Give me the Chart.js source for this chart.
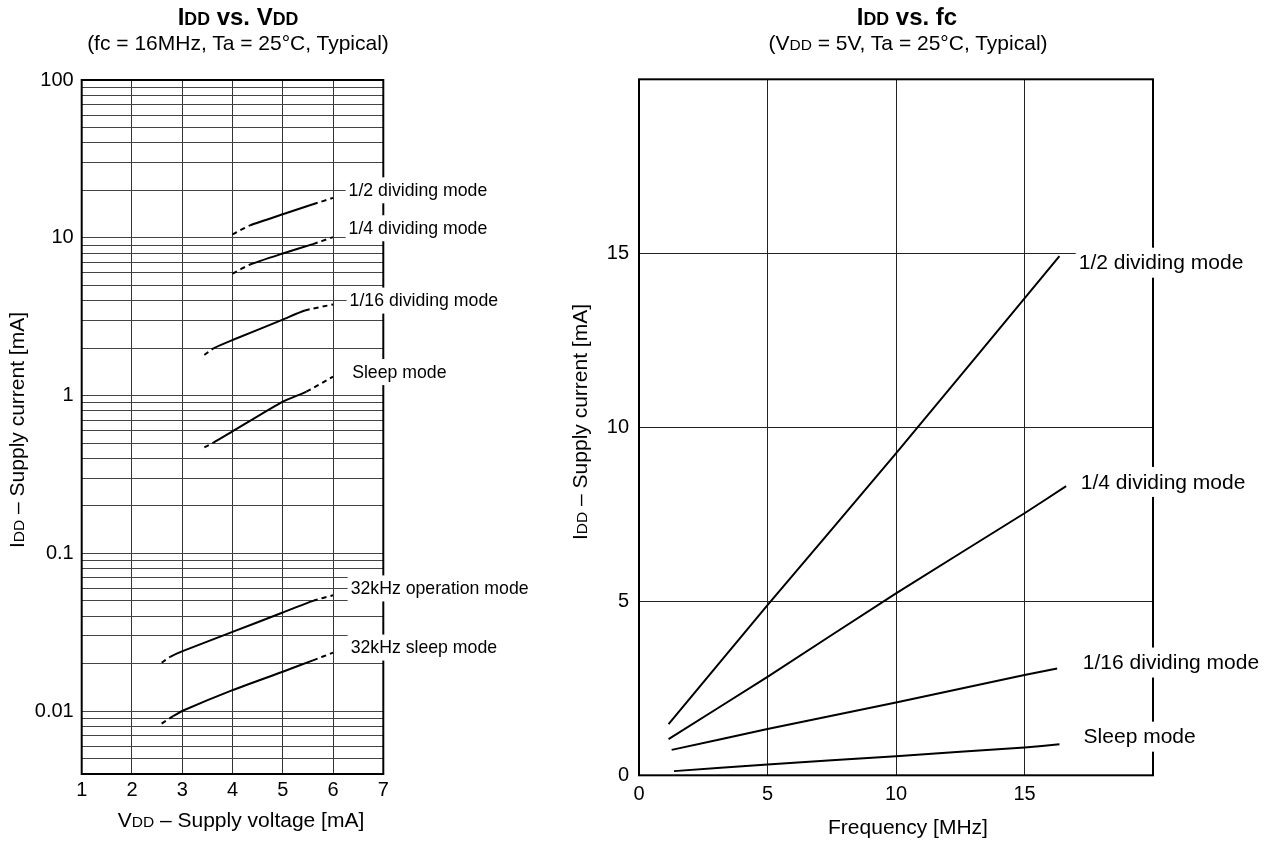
<!DOCTYPE html>
<html>
<head>
<meta charset="utf-8">
<script src="https://cdn.jsdelivr.net/npm/chart.js@4.4.0/dist/chart.umd.min.js"></script>
<style>
  body { margin: 0; background: #fff; color: #000; font-family: "Liberation Sans", Arial, sans-serif; }
  #wrap { position: relative; width: 1273px; height: 842px; overflow: hidden; }
  canvas { position: absolute; top: 0; }
  .t { position: absolute; text-align: center; white-space: nowrap; line-height: 24px; height: 24px; font-size: 21px; }
  .b { font-weight: bold; font-size: 24px; }
  .s { font-size: 0.74em; }
  .rot { transform: rotate(-90deg); }
</style>
</head>
<body>
<div id="wrap">
  <canvas id="leftChart" width="560" height="842" style="left:0"></canvas>
  <canvas id="rightChart" width="713" height="842" style="left:560px"></canvas>

  <div class="t b" style="left:38px;width:400px;top:5px;">I<span class="s">DD</span> vs. V<span class="s">DD</span></div>
  <div class="t" style="left:38px;width:400px;top:31px;">(fc = 16MHz, Ta = 25°C, Typical)</div>
  <div class="t" style="left:41px;width:400px;top:808px;">V<span class="s">DD</span> – Supply voltage [mA]</div>
  <div class="t rot" style="left:-183px;width:400px;top:418px;">I<span class="s">DD</span> – Supply current [mA]</div>

  <div class="t b" style="left:707px;width:400px;top:5px;">I<span class="s">DD</span> vs. fc</div>
  <div class="t" style="left:708px;width:400px;top:31px;">(V<span class="s">DD</span> = 5V, Ta = 25°C, Typical)</div>
  <div class="t" style="left:708px;width:400px;top:815px;">Frequency [MHz]</div>
  <div class="t rot" style="left:380px;width:400px;top:410px;">I<span class="s">DD</span> – Supply current [mA]</div>
</div>

<script>
// --- IDD vs. VDD (fc = 16MHz), log scale, first/last segment dashed ---
const halfVdd = [4.0, 4.35, 5.0, 5.6, 6.0];
const halfIdd = [10.5, 12.0, 14.1, 16.3, 17.9];
const quarterVdd = [4.0, 4.35, 5.0, 5.6, 6.0];
const quarterIdd = [5.93, 6.77, 7.95, 9.12, 10.1];
const sixteenthVdd = [3.44, 3.63, 4.0, 5.0, 5.44, 6.0];
const sixteenthIdd = [1.81, 2.0, 2.25, 3.03, 3.46, 3.78];
const sleepVdd = [3.44, 3.63, 4.0, 5.0, 5.47, 6.0];
const sleepIdd = [0.47, 0.505, 0.593, 0.916, 1.06, 1.32];
const k32OpVdd = [2.59, 2.76, 3.02, 4.0, 5.0, 5.6, 6.0];
const k32OpIdd = [0.0203, 0.0221, 0.0241, 0.0318, 0.0422, 0.05, 0.0543];
const k32SleepVdd = [2.59, 2.82, 3.02, 4.0, 5.0, 5.6, 6.0];
const k32SleepIdd = [0.00835, 0.0093, 0.0101, 0.0136, 0.0178, 0.021, 0.0235];
const vddTickLabels = ["100", "10", "1", "0.1", "0.01"];

// --- IDD vs. fc (VDD = 5V) ---
const halfFc = [1.15, 5, 10, 16.36];
const halfFcIdd = [1.47, 4.89, 9.25, 14.92];
const quarterFc = [1.15, 5, 10, 15, 16.62];
const quarterFcIdd = [1.04, 2.83, 5.23, 7.53, 8.31];
const sixteenthFc = [1.27, 5, 10, 15, 16.27];
const sixteenthFcIdd = [0.73, 1.33, 2.09, 2.88, 3.07];
const sleepFc = [1.36, 5, 10, 15, 16.36];
const sleepFcIdd = [0.12, 0.31, 0.55, 0.80, 0.89];

const FONT = '"Liberation Sans", Arial, sans-serif';

function toXY(xs, ys) {
  return xs.map((x, i) => ({ x: x, y: ys[i] }));
}

// dashed at both ends (extrapolated part of curve)
function dashedEnds(xs, ys) {
  const n = xs.length;
  return {
    data: toXY(xs, ys),
    borderColor: "#000",
    borderWidth: 2,
    pointRadius: 0,
    tension: 0.2,
    segment: {
      borderDash: ctx => (ctx.p0DataIndex === 0 || ctx.p1DataIndex === n - 1) ? [5, 4] : undefined
    }
  };
}

function solid(xs, ys) {
  return { data: toXY(xs, ys), borderColor: "#000", borderWidth: 2, pointRadius: 0, tension: 0.15 };
}

// frame round the plot + curve names on white boxes (they cut the right border)
function frameAndLabels(items, font, pad) {
  return {
    id: "frameAndLabels",
    afterDraw(chart) {
      const { ctx, chartArea: a, scales } = chart;
      ctx.save();
      ctx.strokeStyle = "#000";
      ctx.lineWidth = 2;
      ctx.strokeRect(a.left, a.top, a.right - a.left, a.bottom - a.top);
      ctx.font = font;
      ctx.textBaseline = "middle";
      items.forEach(it => {
        const x = scales.x.getPixelForValue(it.x);
        const y = scales.y.getPixelForValue(it.y);
        const w = ctx.measureText(it.text).width;
        ctx.fillStyle = "#fff";
        ctx.fillRect(x - 3, y - pad, w + 6, pad * 2);
        ctx.fillStyle = "#000";
        ctx.fillText(it.text, x, y + 1);
      });
      ctx.restore();
    }
  };
}

const leftLabels = [
  { text: "1/2 dividing mode", x: 6.31, y: 20 },
  { text: "1/4 dividing mode", x: 6.31, y: 11.5 },
  { text: "1/16 dividing mode", x: 6.33, y: 4.0 },
  { text: "Sleep mode", x: 6.38, y: 1.41 },
  { text: "32kHz operation mode", x: 6.35, y: 0.06 },
  { text: "32kHz sleep mode", x: 6.35, y: 0.0253 }
];

const rightLabels = [
  { text: "1/2 dividing mode", x: 17.11, y: 14.73 },
  { text: "1/4 dividing mode", x: 17.19, y: 8.43 },
  { text: "1/16 dividing mode", x: 17.27, y: 3.24 },
  { text: "Sleep mode", x: 17.3, y: 1.11 }
];

// log grid: 1..9 x 10^n between 0.004 and 100
function logTicks(scale) {
  const vals = [];
  for (let e = -3; e <= 2; e++) {
    for (let m = 1; m <= 9; m++) {
      const v = Number((m * Math.pow(10, e)).toPrecision(3));
      if (v >= 0.004 && v <= 100) vals.push(v);
    }
  }
  scale.ticks = vals.map(v => ({ value: v }));
}

new Chart(document.getElementById("leftChart"), {
  type: "line",
  data: {
    datasets: [
      dashedEnds(halfVdd, halfIdd),
      dashedEnds(quarterVdd, quarterIdd),
      dashedEnds(sixteenthVdd, sixteenthIdd),
      dashedEnds(sleepVdd, sleepIdd),
      dashedEnds(k32OpVdd, k32OpIdd),
      dashedEnds(k32SleepVdd, k32SleepIdd)
    ]
  },
  options: {
    responsive: false,
    animation: false,
    layout: { padding: { left: 11.7, right: 176.7, top: 80, bottom: 28 } },
    plugins: { legend: { display: false }, tooltip: { enabled: false } },
    scales: {
      x: {
        type: "linear", min: 1, max: 7,
        ticks: { stepSize: 1, color: "#000", font: { family: FONT, size: 20 }, padding: 4, maxRotation: 0 },
        grid: { color: "#333", lineWidth: 1, drawTicks: false },
        border: { display: false },
        afterFit: s => { s.height = 40; }
      },
      y: {
        type: "logarithmic", min: 0.004, max: 100,
        afterBuildTicks: logTicks,
        ticks: {
          color: "#000", font: { family: FONT, size: 20 }, padding: 8, autoSkip: false,
          callback: v => {
            const s = String(Number(Number(v).toPrecision(3)));
            return vddTickLabels.includes(s) ? s : "";
          }
        },
        grid: { color: "#444", lineWidth: 1, drawTicks: false },
        border: { display: false },
        afterFit: s => { s.width = 70; }
      }
    }
  },
  plugins: [frameAndLabels(leftLabels, "17.7px " + FONT, 13)]
});

new Chart(document.getElementById("rightChart"), {
  type: "line",
  data: {
    datasets: [
      solid(halfFc, halfFcIdd),
      solid(quarterFc, quarterFcIdd),
      solid(sixteenthFc, sixteenthFcIdd),
      solid(sleepFc, sleepFcIdd)
    ]
  },
  options: {
    responsive: false,
    animation: false,
    layout: { padding: { left: 9, right: 120, top: 79.3, bottom: 26.7 } },
    plugins: { legend: { display: false }, tooltip: { enabled: false } },
    scales: {
      x: {
        type: "linear", min: 0, max: 20,
        ticks: { stepSize: 5, color: "#000", font: { family: FONT, size: 20 }, padding: 7, maxRotation: 0,
                 callback: v => v === 20 ? "" : v },
        grid: { color: "#222", lineWidth: 1, drawTicks: false },
        border: { display: false },
        afterFit: s => { s.height = 40; }
      },
      y: {
        type: "linear", min: 0, max: 20,
        ticks: { stepSize: 5, color: "#000", font: { family: FONT, size: 20 }, padding: 10,
                 callback: v => v === 20 ? "" : v },
        grid: { color: "#222", lineWidth: 1, drawTicks: false },
        border: { display: false },
        afterFit: s => { s.width = 70; }
      }
    }
  },
  plugins: [frameAndLabels(rightLabels, "21px " + FONT, 15)]
});
</script>
</body>
</html>
